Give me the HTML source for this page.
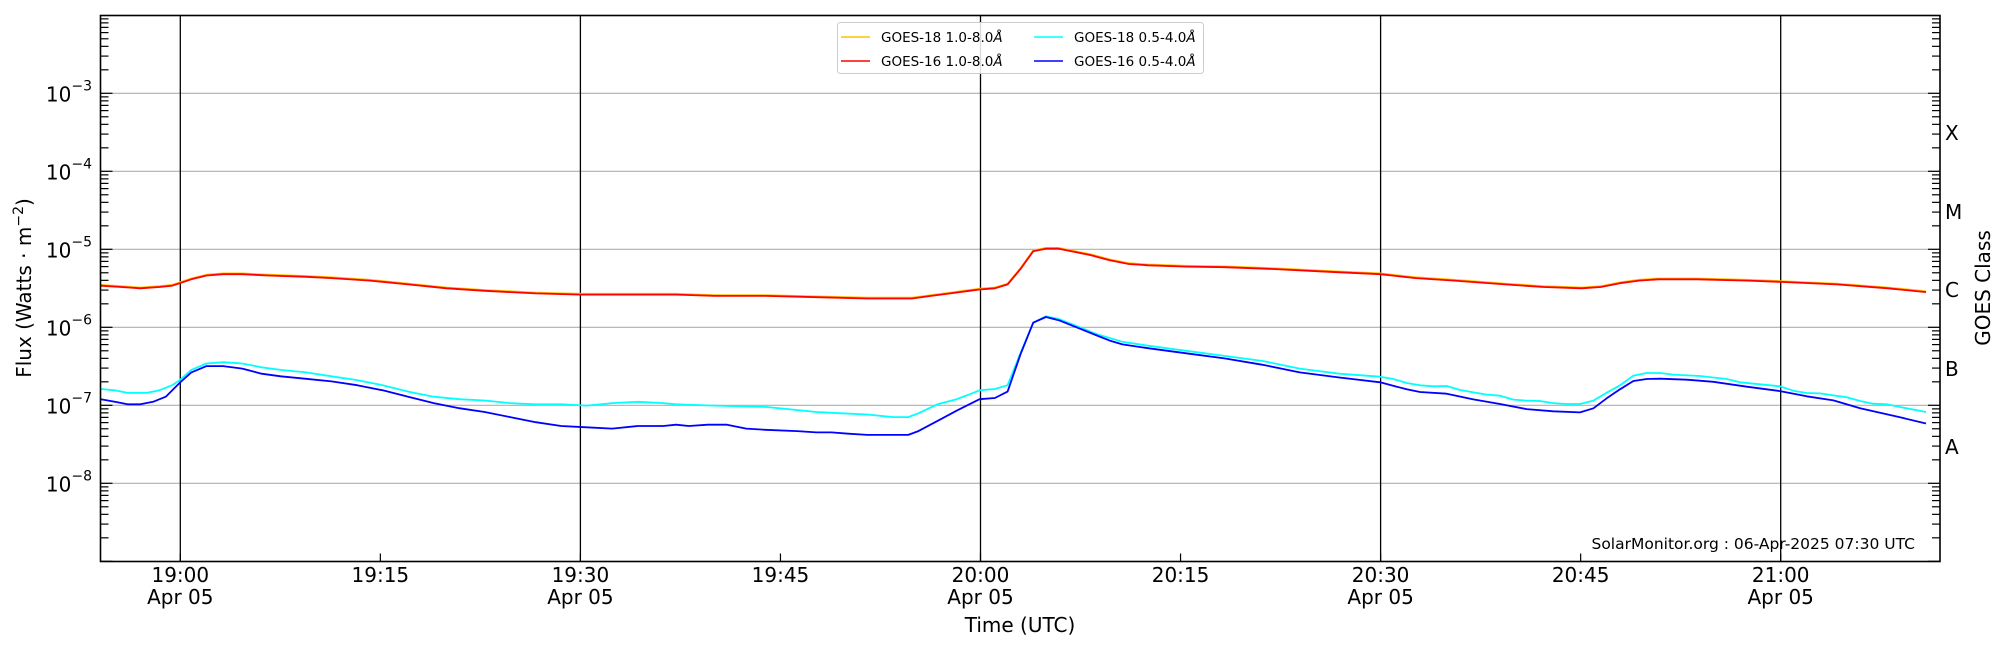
<!DOCTYPE html>
<html><head><meta charset="utf-8"><style>
html,body{margin:0;padding:0;background:#fff;}
svg{display:block;font-family:"DejaVu Sans","Liberation Sans",sans-serif;}
</style></head><body>
<svg id="s" width="2000" height="650" viewBox="0 0 2000 650" xmlns="http://www.w3.org/2000/svg">
<rect width="2000" height="650" fill="#fff"/>
<g id="grid"></g>
<g id="data" fill="none" stroke-linejoin="round"></g>
<g id="ticks" stroke="#000" stroke-width="1.2"></g>
<rect x="100.5" y="15.5" width="1839.5" height="546" fill="none" stroke="#000" stroke-width="1.6"/>
<g id="labels" font-size="20" fill="#000"></g>
<text x="1915" y="549" font-size="15.5" text-anchor="end">SolarMonitor.org : 06-Apr-2025 07:30 UTC</text>
<text x="1020" y="632" font-size="20" text-anchor="middle">Time (UTC)</text>
<text transform="translate(31,288) rotate(-90)" font-size="20" text-anchor="middle">Flux (Watts · m<tspan dy="-8" font-size="14">−2</tspan><tspan dy="8">)</tspan></text>
<text transform="translate(1990,288) rotate(-90)" font-size="20" text-anchor="middle">GOES Class</text>
<g font-size="20">
<text x="1945" y="140">X</text><text x="1945" y="219">M</text><text x="1945" y="297">C</text><text x="1945" y="376">B</text><text x="1945" y="454">A</text>
</g>
<g>
<rect x="837.5" y="22.5" width="366" height="51" rx="3" fill="#fff" fill-opacity="0.85" stroke="#ccc"/>
<line x1="841" y1="37" x2="870" y2="37" stroke="#ffc000" stroke-width="1.5"/>
<line x1="841" y1="61" x2="870" y2="61" stroke="#ff0000" stroke-width="1.5"/>
<line x1="1034" y1="37" x2="1063" y2="37" stroke="#00ffff" stroke-width="1.5"/>
<line x1="1034" y1="61" x2="1063" y2="61" stroke="#0000ff" stroke-width="1.5"/>
<g font-size="13.5"><text x="881" y="42">GOES-18 1.0-8.0<tspan font-style="italic">Å</tspan></text>
<text x="881" y="66">GOES-16 1.0-8.0<tspan font-style="italic">Å</tspan></text>
<text x="1074" y="42">GOES-18 0.5-4.0<tspan font-style="italic">Å</tspan></text>
<text x="1074" y="66">GOES-16 0.5-4.0<tspan font-style="italic">Å</tspan></text></g>
</g>
</svg>
<script>
var NS="http://www.w3.org/2000/svg";
function el(p,t,a,txt){var e=document.createElementNS(NS,t);for(var k in a)e.setAttribute(k,a[k]);if(txt!==undefined)e.textContent=txt;p.appendChild(e);return e;}
var L=100.5,R=1940,T=15.5,B=561.5;
function yv(e){return 93.3+(-3-e)*78;}
function xm(m){return 180.3+m*(1600.4/120);}
var g=document.getElementById('grid'),tk=document.getElementById('ticks'),lb=document.getElementById('labels');
for(var e=-8;e<=-3;e++){var y=yv(e);el(g,'line',{x1:L,x2:R,y1:y,y2:y,stroke:'#b0b0b0','stroke-width':1.2});
 var t=el(lb,'text',{x:92,y:y+8,'text-anchor':'end'});t.textContent='10';el(t,'tspan',{dy:-11,'font-size':14},'−'+(-e));}
for(var m=0;m<=120;m+=30){el(g,'line',{x1:xm(m),x2:xm(m),y1:T,y2:B,stroke:'#000','stroke-width':1.3});}
for(var e=-9;e<=-3;e++){for(var k=1;k<=9;k++){var y=yv(e)-Math.log10(k)*78;if(y<T||y>B)continue;var len=k==1?12:8;
 el(tk,'line',{x1:L,x2:L+len,y1:y,y2:y});el(tk,'line',{x1:R-len,x2:R,y1:y,y2:y});}}
var labs=["19:00","19:15","19:30","19:45","20:00","20:15","20:30","20:45","21:00"];
for(var i=0;i<labs.length;i++){var x=xm(i*15);el(tk,'line',{x1:x,x2:x,y1:B,y2:B-8});
 el(lb,'text',{x:x,y:582,'text-anchor':'middle'},labs[i]);if(i%2==0)el(lb,'text',{x:x,y:604,'text-anchor':'middle'},'Apr 05');}
var S=1.2755;
var red=[[79,224],[95,225],[110,226],[125,225],[135,224],[141,222],[150,219],[162,216],[175,215],[190,215],[210,216],[240,217],[260,218],[290,220],[320,223],[350,226],[380,228],[420,230],[455,231],[500,231],[530,231],[560,232],[600,232],[640,233],[680,234],[715,234],[730,232],[745,230],[760,228],[768,227],[780,226],[790,223],[800,211],[810,197],[820,195],[830,195],[840,197],[855,200],[870,204],[885,207],[900,208],[930,209],[960,209.5],[1000,211],[1040,213],[1082,215],[1110,218],[1140,220],[1180,223],[1210,225],[1240,226],[1255,225],[1270,222],[1285,220],[1300,219],[1330,219],[1370,220],[1396,221],[1440,223],[1480,226],[1510,229]];
var blue=[[79,313],[90,315],[100,317],[110,317],[120,315],[130,311],[141,300],[150,292],[162,287],[175,287],[190,289],[205,293],[220,295],[240,297],[260,299],[280,302],[300,306],[320,311],[340,316],[360,320],[380,323],[400,327],[420,331],[440,334],[460,335],[480,336],[500,334],[520,334],[530,333],[540,334],[555,333],[570,333],[585,336],[600,337],[625,338],[640,339],[652,339],[665,340],[680,341],[700,341],[712,341],[720,338],[735,330],[750,322],[758,318],[768,313],[780,312],[790,307],[800,278],[810,253],[820,248.5],[830,251],[845,257],[860,263],[870,267],[880,270],[900,273],[930,277],[960,281],[990,286],[1019,292],[1050,296],[1082,299.7],[1102.9,305.2],[1113.3,307.3],[1134.2,308.7],[1155.1,313.1],[1176,316.7],[1196.9,320.7],[1217.8,322.5],[1238.7,323.3],[1249.2,320.1],[1259.7,312.3],[1270.1,305.2],[1280.6,298.7],[1291,297.1],[1301.5,296.9],[1322.4,297.7],[1343.3,299.3],[1369.5,303.2],[1395.5,306.6],[1416.5,310.7],[1437.4,313.9],[1458.3,320],[1489.6,327.2],[1510,332]];
var cyan=[[79,305],[90,306],[100,308],[115,308],[125,306],[135,302],[141,298],[150,290],[162,285],[175,284],[190,285],[205,288],[220,290],[240,292],[260,295],[280,298],[300,302],[320,307],[340,311],[360,313],[380,314],[400,316],[420,317],[440,317],[460,318],[480,316],[500,315],[520,316],[530,317],[560,318],[600,319],[620,321],[640,323],[660,324],[680,325],[700,327],[712,327],[720,324],[735,317],[750,313],[758,310],[768,306],[780,305],[790,302],[800,277],[810,253],[820,248],[830,250],[845,256],[860,262],[870,265],[880,268],[900,271],[930,275],[960,279],[990,283],[1019,289],[1050,293],[1082,295.3],[1092.4,297.1],[1102.9,300.3],[1113.3,302.1],[1123.8,302.9],[1134.2,302.6],[1144.7,305.8],[1165.6,309.4],[1176,310.2],[1186.5,313.3],[1196.9,314.1],[1207.4,314.4],[1217.8,316],[1228.3,316.7],[1238.7,316.7],[1249.2,314.1],[1259.7,307.9],[1270.1,302.1],[1280.6,294.5],[1291,292.4],[1301.5,292.4],[1311.9,293.7],[1332.8,294.8],[1353.7,297.1],[1364.2,299.7],[1395.5,302.9],[1406,306.3],[1416.5,308.1],[1426.9,308.4],[1447.8,311.5],[1458.3,314.4],[1468.7,316.5],[1479.2,317],[1489.6,319.1],[1510,323]];
function pts(a,dy){return a.map(function(p){return (p[0]*S).toFixed(1)+','+(p[1]*S+(dy||0)).toFixed(1);}).join(' ');}
var d=document.getElementById('data');
el(d,'polyline',{points:pts(red,-0.8),stroke:'#ffc000','stroke-width':1.8});
el(d,'polyline',{points:pts(red,0),stroke:'#ff0000','stroke-width':1.8});
el(d,'polyline',{points:pts(cyan,0),stroke:'#00ffff','stroke-width':1.8});
el(d,'polyline',{points:pts(blue,0),stroke:'#0000ff','stroke-width':1.8});
</script>
</body></html>
